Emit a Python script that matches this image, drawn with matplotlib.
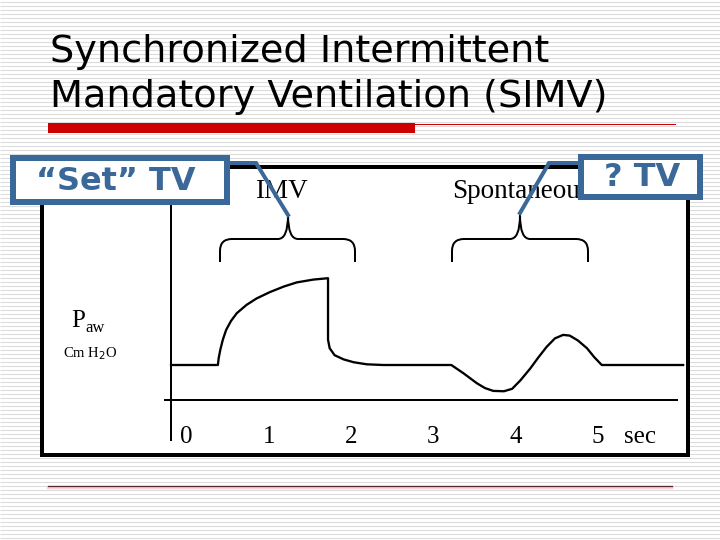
import numpy as np
import matplotlib
matplotlib.use("Agg")
import matplotlib.pyplot as plt
from matplotlib.patches import Rectangle
from matplotlib.path import Path
from matplotlib.patches import PathPatch

# ---------------- data ----------------
title_lines = ["Synchronized Intermittent", "Mandatory Ventilation (SIMV)"]
time_s = [-0.17, 0.40, 0.41, 0.43, 0.46, 0.50, 0.56, 0.63, 0.75, 0.87, 1.03, 1.20, 1.36, 1.56, 1.74,
          1.74, 1.76, 1.82, 1.93, 2.05, 2.21, 2.41, 3.24, 3.39, 3.55, 3.65, 3.75, 3.88, 3.98,
          4.08, 4.20, 4.30, 4.40, 4.50, 4.60, 4.68, 4.78, 4.89, 4.98, 5.07, 6.06]
paw = [5.0, 5.0, 6.0, 7.2, 8.6, 10.0, 11.3, 12.4, 13.6, 14.5, 15.4, 16.2, 16.8, 17.2, 17.4,
       8.6, 7.4, 6.4, 5.8, 5.4, 5.1, 5.0, 5.0, 3.8, 2.4, 1.7, 1.3, 1.25, 1.6,
       2.8, 4.5, 6.1, 7.6, 8.8, 9.3, 9.2, 8.5, 7.4, 6.1, 5.0, 5.0]
tick_values = [0, 1, 2, 3, 4, 5]
tick_labels = ["0", "1", "2", "3", "4", "5"]
unit_label = "sec"
phase_labels = ["IMV", "Spontaneous"]
callout_texts = ["\u201cSet\u201d TV", "? TV"]

# ---------------- layout helpers ----------------
W, H = 720, 540
PX = 0.72  # points per pixel at dpi 100
BLUE = "#3A6898"
SERIF = ["Liberation Serif", "DejaVu Serif"]

fig = plt.figure(figsize=(7.2, 5.4), dpi=100)
fig.patch.set_facecolor("white")

bg = fig.add_axes([0, 0, 1, 1], zorder=0)
bg.set_xlim(0, W)
bg.set_ylim(H, 0)
bg.axis("off")

# striped slide background
bg.hlines(np.arange(1.5, H, 4), 0, W, color="#DCDCDC", lw=1.1 * PX, zorder=0)

# title
bg.text(50, 62, title_lines[0], fontsize=27.5, family="DejaVu Sans", va="baseline", color="black")
bg.text(50, 107, title_lines[1], fontsize=27.5, family="DejaVu Sans", va="baseline", color="black")

# red rule
bg.add_patch(Rectangle((48, 123), 367, 10, color="#CC0000", lw=0, zorder=2))
bg.plot([415, 675], [123.6, 123.6], color="#CC0000", lw=1.0 * PX, zorder=2)

# bottom rule
bg.plot([48, 672], [488, 488], color="#F6D3D8", lw=2.5 * PX, zorder=2)
bg.plot([48, 672], [486.3, 486.3], color="#5A2A2E", lw=1.3 * PX, zorder=3)

# chart frame
bg.add_patch(Rectangle((42, 167), 646, 288, facecolor="white", edgecolor="black",
                       lw=4 * PX, zorder=2))

# y label
bg.text(71, 327, "P", fontsize=18, family=SERIF, va="baseline", zorder=4)
bg.text(85, 332, "aw", fontsize=12, family=SERIF, va="baseline", zorder=4)
bg.text(63, 357, "Cm H$_2$O", fontsize=10.5, family=SERIF, va="baseline", zorder=4)


def brace(x0, x1, xc, y_end=262, y_flat=239, y_tip=215, r=12, rc=10):
    verts = [(x0, y_end), (x0, y_flat + r), (x0, y_flat), (x0 + r, y_flat),
             (xc - rc, y_flat), (xc, y_flat), (xc, y_tip),
             (xc, y_flat), (xc + rc, y_flat), (x1 - r, y_flat),
             (x1, y_flat), (x1, y_flat + r), (x1, y_end)]
    codes = [Path.MOVETO, Path.LINETO, Path.CURVE3, Path.CURVE3,
             Path.LINETO, Path.CURVE3, Path.CURVE3,
             Path.CURVE3, Path.CURVE3, Path.LINETO,
             Path.CURVE3, Path.CURVE3, Path.LINETO]
    bg.add_patch(PathPatch(Path(verts, codes), facecolor="none", edgecolor="black",
                           lw=2 * PX, zorder=4, capstyle="butt"))


brace(220, 355, 288)
brace(452, 588, 520)
bg.text(281, 191, phase_labels[0], fontsize=19.5, family=SERIF, ha="center", va="center", zorder=4)
bg.text(452, 191, phase_labels[1], fontsize=19.5, family=SERIF, ha="left", va="center", zorder=4)

# ---------------- data axes ----------------
x0_px, px_per_s = 185.0, 82.2
y0_px, px_per_u = 400.0, 7.0
ax = fig.add_axes([0, 0, 1, 1], zorder=1)
ax.patch.set_alpha(0)
ax.set_xlim((0 - x0_px) / px_per_s, (W - x0_px) / px_per_s)
ax.set_ylim((y0_px - H) / px_per_u, (y0_px - 0) / px_per_u)
ax.axis("off")

# axis lines
ax.plot([-0.17, -0.17], [(y0_px - 167) / px_per_u, (y0_px - 440) / px_per_u], color="black", lw=2 * PX)
ax.plot([-0.24, 5.99], [0, 0], color="black", lw=2 * PX)

ax.plot(time_s, paw, color="black", lw=2.3 * PX, solid_joinstyle="round")

for v, lab in zip(tick_values, tick_labels):
    ax.text(v + 0.02, -5.3, lab, fontsize=18, family=SERIF, ha="center", va="center")
ax.text(5.54, -5.3, unit_label, fontsize=18, family=SERIF, ha="center", va="center")

# ---------------- callouts ----------------
fg = fig.add_axes([0, 0, 1, 1], zorder=2)
fg.patch.set_alpha(0)
fg.set_xlim(0, W)
fg.set_ylim(H, 0)
fg.axis("off")

fg.plot([228, 256, 288], [163, 163, 215], color=BLUE, lw=4 * PX, solid_joinstyle="miter")
fg.add_patch(Rectangle((13, 158), 214, 44, facecolor="white", edgecolor=BLUE, lw=6 * PX))
fg.text(116, 181, callout_texts[0], fontsize=23, weight="bold", family="DejaVu Sans",
        color=BLUE, ha="center", va="center")

fg.plot([580, 549, 520], [163, 163, 213], color=BLUE, lw=4 * PX, solid_joinstyle="miter")
fg.add_patch(Rectangle((581, 157), 119, 40, facecolor="white", edgecolor=BLUE, lw=6 * PX))
fg.text(642, 178, callout_texts[1], fontsize=23, weight="bold", family="DejaVu Sans",
        color=BLUE, ha="center", va="center")

fig.savefig("out.png", dpi=100)
